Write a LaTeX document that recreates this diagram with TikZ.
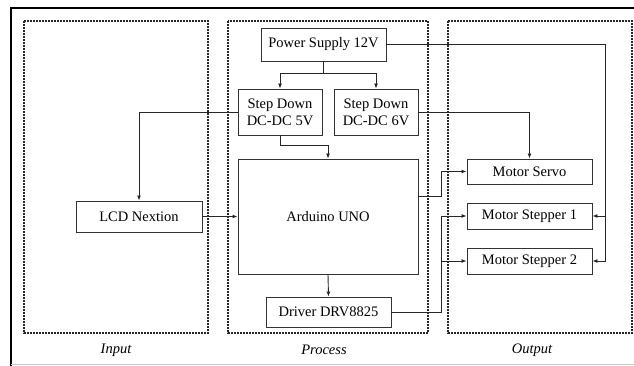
\documentclass[tikz,border=0pt]{standalone}
\usepackage{fontspec}
\setmainfont{Liberation Serif}
\usetikzlibrary{arrows.meta}
\tikzset{
  flowarrow/.style={-{Latex[length=5pt,width=4pt]}, line width=0.9pt, black!85},
  flowline/.style={line width=0.9pt, black!85},
  blockbox/.style={draw=black!80, line width=0.9pt, fill=white, minimum height=31pt, align=center, inner sep=0pt},
  groupbox/.style={draw=black!85, line width=1.6pt, dash pattern=on 1.6pt off 1.4pt},
  grouplabel/.style={font=\fontsize{14.5}{17}\selectfont\itshape}
}

\begin{document}
\begin{tikzpicture}[x=1pt, y=-1pt, every node/.style={font=\fontsize{14.5}{17}\selectfont}]
      \useasboundingbox (0,0) rectangle (634,366);
      % outer frame
      \draw[line width=1.4pt] (11,366) -- (11,8) -- (640,8);
      \draw[black!20, line width=0.8pt] (11,364) -- (634,364);
      % groups
      \draw[groupbox] (24,21) rectangle (208,333);
      \draw[groupbox] (228,21) rectangle (428,333);
      \draw[groupbox] (448,21) rectangle (632,333);
      \node[grouplabel] (lin) at (116,350) {Input};
      \node[grouplabel] (lproc) at (324,350) {Process};
      \node[grouplabel] (lout) at (532,350) {Output};
      % blocks
      \node[blockbox, minimum width=125pt, minimum height=33pt] (psu) at (323.5,44.5) {Power Supply 12V};
      \node[blockbox, minimum width=84pt, minimum height=46pt] (sd5) at (280,112) {Step Down\\DC-DC 5V};
      \node[blockbox, minimum width=84pt, minimum height=46pt] (sd6) at (376,112) {Step Down\\DC-DC 6V};
      \node[blockbox, minimum width=180pt, minimum height=115pt] (ard) at (328,216.5) {Arduino UNO};
      \node[blockbox, minimum width=125pt, minimum height=30pt] (drv) at (328.5,312) {Driver DRV8825};
      \node[blockbox, minimum width=126pt] (lcd) at (139,216.5) {LCD Nextion};
      \node[blockbox, minimum width=125pt, minimum height=25pt] (servo) at (529.5,171.5) {Motor Servo};
      \node[blockbox, minimum width=125pt, minimum height=26pt] (m1) at (529.5,216) {Motor Stepper 1};
      \node[blockbox, minimum width=125pt, minimum height=26pt] (m2) at (529.5,261) {Motor Stepper 2};
      \coordinate (rbus) at (605,0);
      % connections
      \draw[flowarrow] (psu.south) -- ++(0,12) -| (sd5.north);
      \draw[flowarrow] (psu.south) -- ++(0,12) -| (sd6.north);
      \draw[flowarrow] (psu.east) -- (psu.east -| rbus) |- (m2.east);
      \draw[flowarrow] (rbus |- m1.east) -- (m1.east);
      \draw[flowarrow] (sd5.west) -| (lcd.north);
      \draw[flowarrow] (sd5.south) -- ++(0,10) -| (ard.north);
      \draw[flowarrow] (sd6.east) -| (servo.north);
      \draw[flowarrow] (lcd.east) -- (ard.west);
      \draw[flowarrow] ([yshift=20pt]ard.east) -| ([xshift=-25pt]servo.west) -- (servo.west);
      \draw[flowarrow] (ard.south) -- (drv.north);
      \draw[flowarrow] (drv.east) -| ([xshift=-25pt]m1.west) -- (m1.west);
      \draw[flowarrow] ([xshift=-25pt]m2.west) -- (m2.west);
    \end{tikzpicture}
\end{document}
